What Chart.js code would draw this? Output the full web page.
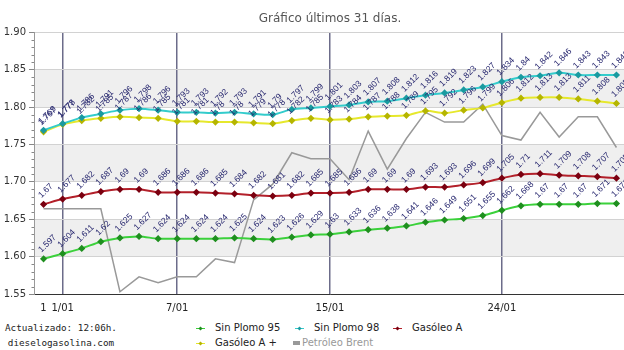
<!DOCTYPE html>
<html><head><meta charset="utf-8">
<script src="https://cdn.jsdelivr.net/npm/chart.js@4.4.1/dist/chart.umd.min.js"></script>
<style>
html,body{margin:0;padding:0;background:#fff;overflow:hidden;width:624px;height:350px;}
#wrap{position:absolute;left:0;top:0;width:660px;height:320px;}
#upd{position:absolute;left:0;top:320px;width:122px;text-align:center;font:9.3px 'DejaVu Sans Mono',monospace;color:#222;line-height:15px;}
.lg{position:absolute;}
.lt{position:absolute;font:10px 'DejaVu Sans',sans-serif;line-height:14px;white-space:nowrap;color:#222;}
</style></head>
<body>
<div id="wrap"><canvas id="c" width="660" height="320"></canvas></div>
<div id="upd">Actualizado: 12:06h.<br>dieselogasolina.com</div>
<div id="legend"></div>
<script>
// ---- data ----
const days = ['31/12','1/01','2/01','3/01','4/01','5/01','6/01','7/01','8/01','9/01','10/01','11/01','12/01','13/01','14/01','15/01','16/01','17/01','18/01','19/01','20/01','21/01','22/01','23/01','24/01','25/01','26/01','27/01','28/01','29/01','30/01'];
const tickLabels = ['1','1/01','','','','','','7/01','','','','','','','','15/01','','','','','','','','','24/01','','','','','',''];
const sinPlomo95 = [1.597,1.604,1.611,1.62,1.625,1.627,1.624,1.624,1.624,1.624,1.625,1.624,1.623,1.626,1.629,1.63,1.633,1.636,1.638,1.641,1.646,1.649,1.651,1.655,1.662,1.668,1.67,1.67,1.67,1.671,1.671];
const sinPlomo98 = [1.769,1.778,1.786,1.791,1.796,1.798,1.796,1.793,1.793,1.792,1.793,1.791,1.79,1.797,1.799,1.801,1.803,1.807,1.808,1.812,1.816,1.819,1.823,1.827,1.834,1.84,1.842,1.846,1.843,1.843,1.843];
const gasoleoA = [1.67,1.677,1.682,1.687,1.69,1.69,1.686,1.686,1.686,1.685,1.684,1.682,1.681,1.682,1.685,1.685,1.686,1.69,1.69,1.69,1.693,1.693,1.696,1.699,1.705,1.71,1.711,1.709,1.708,1.707,1.705];
const gasoleoAPlus = [1.767,1.777,1.782,1.785,1.787,1.786,1.785,1.781,1.781,1.78,1.78,1.779,1.778,1.782,1.785,1.783,1.784,1.787,1.788,1.789,1.795,1.792,1.796,1.799,1.806,1.812,1.813,1.813,1.811,1.808,1.805];
const brent = [1.664,1.664,1.664,1.664,1.553,1.573,1.565,1.573,1.573,1.597,1.592,1.676,1.697,1.739,1.731,1.731,1.703,1.768,1.717,1.758,1.793,1.78,1.78,1.804,1.762,1.756,1.793,1.76,1.787,1.787,1.746];
const seriesNames = ['Sin Plomo 95','Sin Plomo 98','Gasóleo A','Gasóleo A +','Petróleo Brent'];
const yTicks = [1.55,1.60,1.65,1.70,1.75,1.80,1.85,1.90];
const shadedBands = [[1.80,1.85],[1.70,1.75],[1.60,1.65]];
const markedDays = [1,7,15,24];

// ---- styles ----
const lineCol = ['#3bd13b','#33cccc','#b3202a','#e6e82c','#999999'];
const markCol = ['#1f8f1f','#1a9aa0','#7a0010','#b5b500','#999999'];

function fuel(i, data){
  return {label:seriesNames[i], data:data, borderColor:lineCol[i], backgroundColor:markCol[i],
    pointBackgroundColor:markCol[i], pointBorderColor:markCol[i], pointStyle:'rectRot',
    pointRadius:2.2, borderWidth:2, tension:0.3, showLabels:true, order:i};
}

const bandsPlugin = {id:'bands', beforeDraw(chart){
  const {ctx, chartArea:a, scales:{y}} = chart;
  ctx.save(); ctx.fillStyle='#efefef';
  shadedBands.forEach(b=>{const t=y.getPixelForValue(b[1]), bt=y.getPixelForValue(b[0]); ctx.fillRect(a.left,t,a.right-a.left,bt-t);});
  ctx.restore();
}};
const minorPlugin = {id:'minor', afterDraw(chart){
  const {ctx, chartArea:a, scales:{y}} = chart;
  ctx.save(); ctx.strokeStyle='#888'; ctx.lineWidth=1;
  for(let k=0;k<=35;k++){ if(k%5===0) continue; const py=Math.round(y.getPixelForValue(1.55+k*0.01))+0.5;
    ctx.beginPath(); ctx.moveTo(a.left-2.5,py); ctx.lineTo(a.left,py); ctx.stroke(); }
  ctx.restore();
}};
const labelPlugin = {id:'vlabels', afterDatasetsDraw(chart){
  const ctx = chart.ctx;
  ctx.save(); ctx.fillStyle='#26266e'; ctx.font='8.5px "Liberation Sans", sans-serif'; ctx.textAlign='left'; ctx.textBaseline='alphabetic';
  chart.data.datasets.forEach((ds,di)=>{
    if(!ds.showLabels) return;
    chart.getDatasetMeta(di).data.forEach((pt,i)=>{
      ctx.save(); ctx.translate(pt.x-2, pt.y-6); ctx.rotate(-Math.PI/4);
      ctx.fillText(String(ds.data[i]),0,0); ctx.restore();
    });
  });
  ctx.restore();
}};

new Chart(document.getElementById('c'), {
  type:'line',
  data:{labels:days, datasets:[
    fuel(0,sinPlomo95), fuel(1,sinPlomo98), fuel(2,gasoleoA), fuel(3,gasoleoAPlus),
    {label:seriesNames[4], data:brent, borderColor:lineCol[4], borderWidth:1.5, pointRadius:0, tension:0, order:10}
  ]},
  options:{
    responsive:false, animation:false, devicePixelRatio:1,
    layout:{padding:0},
    plugins:{legend:{display:false}, tooltip:{enabled:false},
      title:{display:true, text:'Gráfico últimos 31 días.', color:'#555', font:{family:'DejaVu Sans', size:12, weight:'normal'}, padding:{top:12,bottom:6}}},
    scales:{
      x:{type:'category', offset:true,
        ticks:{autoSkip:false, maxRotation:0, callback:(v,i)=>tickLabels[i], color:'#222', font:{family:'DejaVu Sans', size:10}, padding:8},
        grid:{drawTicks:false, lineWidth:1.5, color:c=>markedDays.includes(c.index)?'#6c6c8a':'rgba(0,0,0,0)'},
        border:{color:'#333', width:1},
        afterFit:s=>{s.height=26;}},
      y:{min:yTicks[0], max:yTicks[yTicks.length-1],
        afterBuildTicks:s=>{s.ticks=yTicks.map(v=>({value:v}));},
        ticks:{callback:v=>v.toFixed(2), color:'#333', font:{family:'DejaVu Sans', size:10}, padding:3},
        grid:{color:'#d2d2d2', tickLength:5, tickColor:'#888'},
        border:{color:'#999'},
        afterFit:s=>{s.width=34;}},
      y2:{position:'right', display:true, min:yTicks[0], max:yTicks[yTicks.length-1],
        afterBuildTicks:s=>{s.ticks=yTicks.map(v=>({value:v}));},
        ticks:{callback:v=>v.toFixed(2), color:'#333', font:{family:'DejaVu Sans', size:10}},
        grid:{drawOnChartArea:false, tickLength:4, tickColor:'#888'},
        border:{color:'#999'},
        afterFit:s=>{s.width=34;}}
    }
  },
  plugins:[bandsPlugin, minorPlugin, labelPlugin]
});

// ---- HTML legend ----
const legendPos = [[200,328],[299,328],[397,328],[200,343],[297,343]];
const lg = document.getElementById('legend');
seriesNames.forEach((n,i)=>{
  const [mx,my] = legendPos[i];
  if(i<4){
    const l=document.createElement('div'); l.className='lg';
    l.style.cssText=`left:${mx-4}px;top:${my}px;width:9px;height:1px;background:${lineCol[i]}`; lg.appendChild(l);
    const d=document.createElement('div'); d.className='lg';
    d.style.cssText=`left:${mx-1.5}px;top:${my-1}px;width:3px;height:3px;transform:rotate(45deg);background:${markCol[i]}`; lg.appendChild(d);
    const t=document.createElement('div'); t.className='lt'; t.textContent=n;
    t.style.left=(mx+15)+'px'; t.style.top=(my-7)+'px'; lg.appendChild(t);
  } else {
    const r=document.createElement('div'); r.className='lg';
    r.style.cssText=`left:${mx-4}px;top:${my-2}px;width:7px;height:4px;background:${lineCol[i]}`; lg.appendChild(r);
    const t=document.createElement('div'); t.className='lt'; t.textContent=n; t.style.color='#999';
    t.style.left=(mx+5)+'px'; t.style.top=(my-7)+'px'; lg.appendChild(t);
  }
});
</script>
</body></html>
